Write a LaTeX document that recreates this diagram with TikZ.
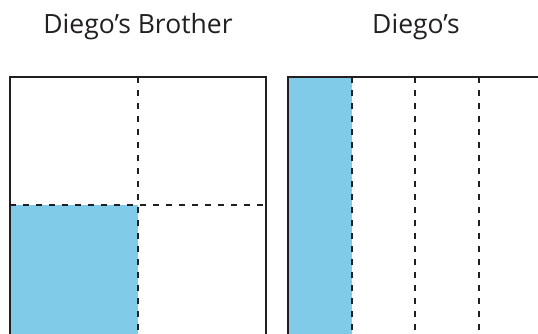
\documentclass[tikz,border=0pt]{standalone}
\usepackage{fontspec}
\setmainfont{Open Sans}
\usepackage{tikz}
\definecolor{partblue}{RGB}{128,204,232}
\definecolor{edgegray}{RGB}{35,31,32}

\begin{document}
\begin{tikzpicture}[
    x=1pt, y=-1pt,
    frame/.style={draw=edgegray, line width=2.5pt},
    cutline/.style={draw=edgegray, line width=2.1pt, dash pattern=on 6pt off 7pt},
    shaded/.style={fill=partblue},
    title/.style={font=\fontsize{26.5}{31}\selectfont, text=edgegray, anchor=base}
]
\useasboundingbox (0,0) rectangle (538,333);

% Diego's brother: square cut into quarters
\fill[shaded] (10,205) rectangle (138,336);
\draw[cutline] (138,77) -- (138,336);
\draw[cutline] (10,205) -- (266,205);
\draw[frame] (10,336) -- (10,77) -- (266,77) -- (266,336);

% Diego: square cut into fourths
\fill[shaded] (288,77) rectangle (352,336);
\foreach \x in {352,415,479}
    \draw[cutline] (\x,77) -- (\x,336);
\draw[frame] (288,336) -- (288,77) -- (546,77);

% Titles
\node[title] (brother) at (138,33) {Diego’s Brother};
\node[title] (diego) at (416,33) {Diego’s};
\end{tikzpicture}
\end{document}
